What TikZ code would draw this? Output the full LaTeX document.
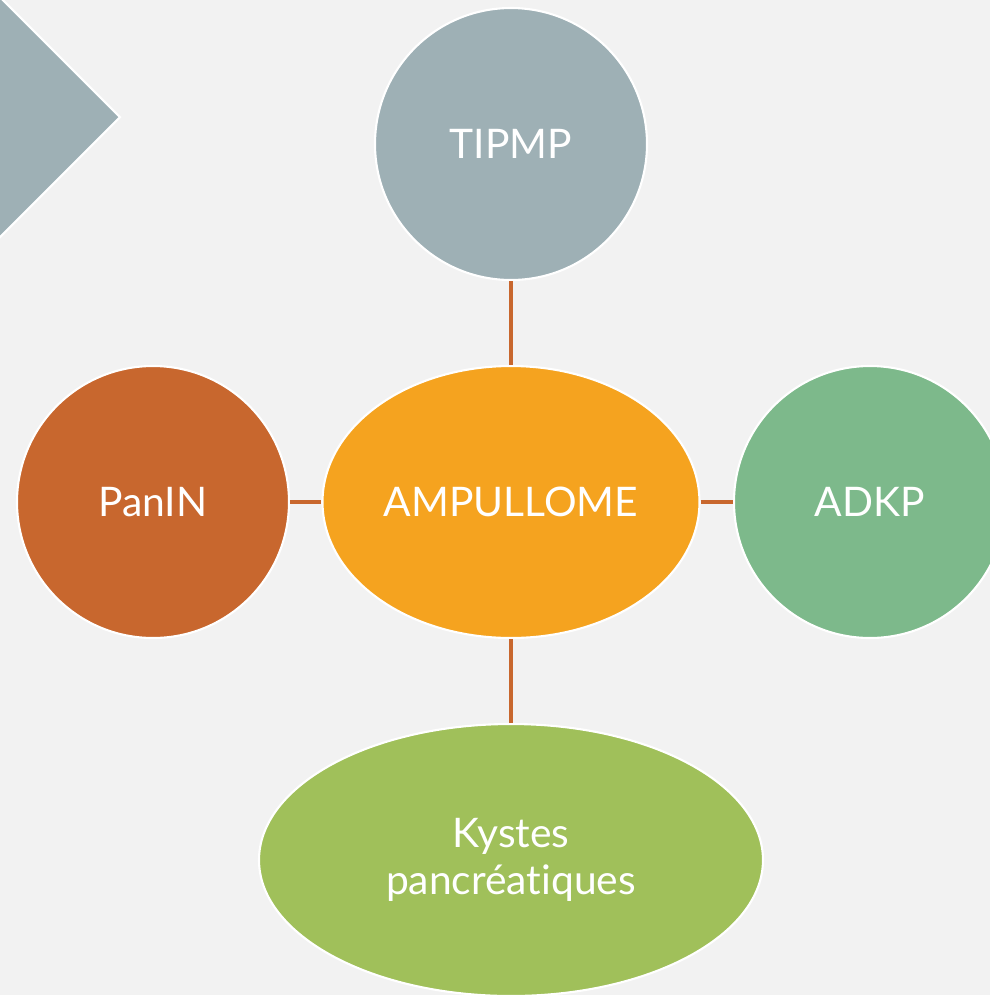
\documentclass[tikz,border=0pt]{standalone}
\usepackage{fontspec}
\setmainfont[Ligatures={NoCommon,NoDiscretionary,NoContextual}]{Lato}
\usepackage{tikz}
\usetikzlibrary{shapes.geometric, positioning}

\definecolor{bgGray}{HTML}{F2F2F2}
\definecolor{slateGray}{HTML}{9EB0B5}
\definecolor{ampOrange}{HTML}{F5A31F}
\definecolor{rustBrown}{HTML}{C8672E}
\definecolor{sageGreen}{HTML}{7DB98B}
\definecolor{limeGreen}{HTML}{A0C05A}

\tikzset{
	bubble/.style={circle, draw=white, line width=0.6pt, text=white, inner sep=0pt, minimum size=2.72cm, font=\fontsize{11.6}{14}\selectfont},
	oval/.style={ellipse, draw=white, line width=0.6pt, text=white, inner sep=0pt, minimum height=2.72cm, align=center, font=\fontsize{11.6}{13.2}\selectfont},
	link/.style={draw=rustBrown, line width=0.9pt}
}

\begin{document}
\begin{tikzpicture}
			% Background and frame
			\fill[bgGray] (0,0) rectangle (9.90,-9.95);
			\useasboundingbox (0,0) rectangle (9.90,-9.95);
			\clip (0,0) rectangle (9.90,-9.95);
			
			% Chevron in the corner
			\filldraw[fill=slateGray, draw=white, line width=0.6pt] (-0.50,0.53) -- (1.20,-1.17) -- (-0.50,-2.87) -- cycle;
			
			% Centre and satellites
			\node[oval, fill=ampOrange, minimum width=3.77cm] (ampullome) at (5.11,-5.02) {AMPULLOME};
			\node[bubble, fill=slateGray] (tipmp) at (5.11,-1.44) {TIPMP};
			\node[bubble, fill=rustBrown] (panin) at (1.53,-5.02) {PanIN};
			\node[bubble, fill=sageGreen] (adkp) at (8.70,-5.02) {ADKP};
			\node[oval, fill=limeGreen, minimum width=5.04cm] (kystes) at (5.11,-8.60) {Kystes\\pancréatiques};
			
			% Connectors
			\draw[link] (tipmp) -- (ampullome);
			\draw[link] (panin) -- (ampullome);
			\draw[link] (ampullome) -- (adkp);
			\draw[link] (ampullome) -- (kystes);
		\end{tikzpicture}
\end{document}
